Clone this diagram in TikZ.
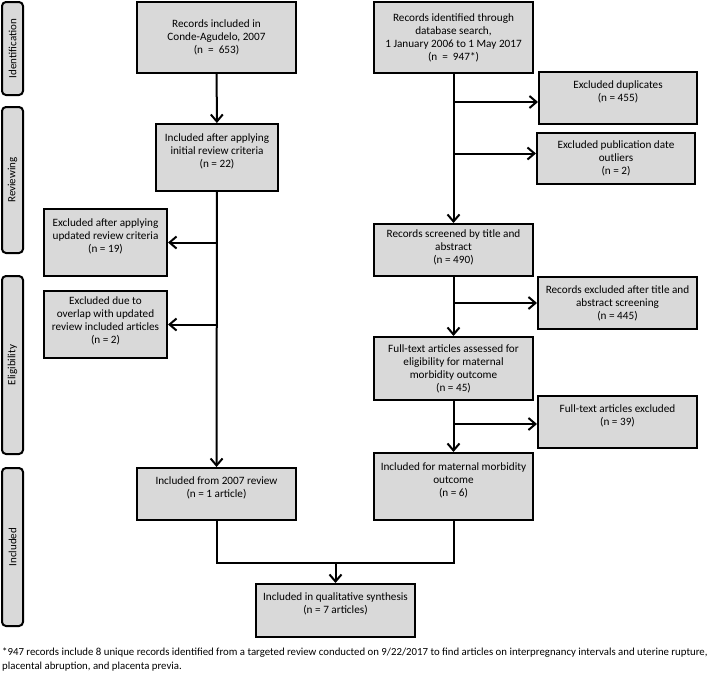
\documentclass[tikz,border=0pt]{standalone}
\usepackage{fontspec}
\setmainfont{Carlito}
\usepackage{tikz}
\usetikzlibrary{arrows.meta}

\begin{document}
\begin{tikzpicture}[x=1pt, y=-1pt,
  box/.style={draw=black, line width=2pt, fill=boxgray, align=center,
    inner sep=2pt, font=\fontsize{11.2}{13}\selectfont},
  lift/.style={text depth=#1},
  stage/.style={draw=black, line width=2pt, fill=boxgray, rounded corners=4pt,
    minimum width=21pt, inner sep=0pt, font=\fontsize{11}{12}\selectfont},
  link/.style={line width=2pt},
  flow/.style={line width=2pt, -{Straight Barb[length=7pt, width=12pt, line width=2pt]}}]
\definecolor{boxgray}{HTML}{D9D9D9}
\useasboundingbox (0,0) rectangle (709,675);
\node [stage, minimum height=93pt] (ident) at (12.5,48.5) {\rotatebox{90}{Identification}};
\node [stage, minimum height=146pt] (review) at (12.5,180) {\rotatebox{90}{Reviewing}};
\node [stage, minimum height=178pt] (elig) at (12.5,365) {\rotatebox{90}{Eligibility}};
\node [stage, minimum height=158pt] (incl) at (12.5,547) {\rotatebox{90}{Included}};
\node [box, minimum width=159pt, minimum height=71pt] (conde) at (216.5,37.5) {Records included in\\Conde-Agudelo, 2007\\(n\ \ =\ \ 653)};
\node [box, minimum width=159pt, minimum height=71pt] (search) at (453.5,37.5) {Records identified through\\database search,\\1 January 2006 to 1 May 2017\\(n\ \ =\ \ 947*)};
\node [box, lift=14pt, minimum width=158pt, minimum height=52pt] (dupl) at (618,98) {Excluded duplicates\\(n = 455)};
\node [box, minimum width=158pt, minimum height=51pt] (outl) at (616,158.5) {Excluded publication date\\outliers\\(n = 2)};
\node [box, lift=14pt, minimum width=122pt, minimum height=67pt] (initial) at (217,157.5) {Included after applying\\initial review criteria\\(n = 22)};
\node [box, lift=14pt, minimum width=123pt, minimum height=67pt] (updated) at (105.5,242.5) {Excluded after applying\\updated review criteria\\(n = 19)};
\node [box, lift=8pt, minimum width=123pt, minimum height=67pt] (overlap) at (105.5,324.5) {Excluded due to\\overlap with updated\\review included articles\\(n = 2)};
\node [box, lift=7pt, minimum width=159pt, minimum height=52pt] (screen) at (453.5,250) {Records screened by title and\\abstract\\(n = 490)};
\node [box, minimum width=159pt, minimum height=52pt] (titleex) at (617.5,303) {Records excluded after title and\\abstract screening\\(n = 445)};
\node [box, minimum width=159pt, minimum height=63pt] (fulltext) at (453.5,368.5) {Full-text articles assessed for\\eligibility for maternal\\morbidity outcome\\(n = 45)};
\node [box, lift=14pt, minimum width=159pt, minimum height=52pt] (fullex) at (617.5,422) {Full-text articles excluded\\(n = 39)};
\node [box, lift=14pt, minimum width=159pt, minimum height=52pt] (old) at (216.5,494) {Included from 2007 review\\(n = 1 article)};
\node [box, lift=14pt, minimum width=159pt, minimum height=67pt] (morb) at (453.5,486.5) {Included for maternal morbidity\\outcome\\(n = 6)};
\node [box, lift=14pt, minimum width=159pt, minimum height=53pt] (synth) at (335.5,610.5) {Included in qualitative synthesis\\(n = 7 articles)};
\node [anchor=north west, inner sep=0pt, align=left, font=\fontsize{10.8}{14}\selectfont] (note) at (2,648) {*947 records include 8 unique records identified from a targeted review conducted on 9/22/2017 to find articles on interpregnancy intervals and uterine rupture,\\placental abruption, and placenta previa.};
\coordinate (join) at (335.5,563);
\draw [flow] (conde) -- (initial);
\draw [flow] (initial) -- (old);
\draw [flow] (updated.east -| initial.south) -- (updated.east);
\draw [flow] (overlap.east -| initial.south) -- (overlap.east);
\draw [flow] (search) -- (screen);
\draw [flow] ([yshift=-4pt]dupl.west -| search.south) -- ([yshift=-4pt]dupl.west);
\draw [flow] ([yshift=5pt]outl.west -| search.south) -- ([yshift=5pt]outl.west);
\draw [flow] (screen) -- (fulltext);
\draw [flow] (titleex.west -| screen.south) -- (titleex.west);
\draw [flow] (fulltext) -- (morb);
\draw [flow] ([yshift=-2pt]fullex.west -| fulltext.south) -- ([yshift=-2pt]fullex.west);
\draw [link] (old.south) |- (join) -| (morb.south);
\draw [flow] (join) -- (synth.north);
\end{tikzpicture}
\end{document}
